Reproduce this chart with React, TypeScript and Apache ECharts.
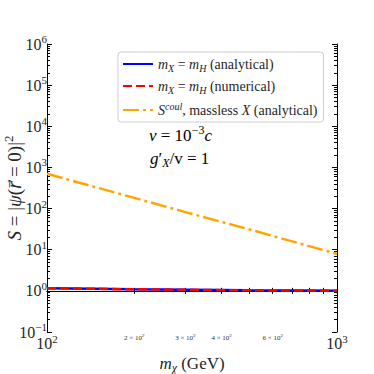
import React, { useEffect, useRef } from "react";
import * as echarts from "echarts";

// ---- data ----
const massGeV = [100, 200, 300, 500, 1000];
const sAnalytical = [1.16, 1.09, 1.06, 1.03, 1.01];
const sNumerical = [1.16, 1.09, 1.06, 1.03, 1.01];
const sCoulomb = [700, 182, 82, 31, 7.9];

const xMajorExp = [2, 3];
const xMinorValues = [200, 300, 400, 500, 600, 700, 800, 900];
const xMinorLabelValues = [200, 300, 400, 600];
const yMin = -1;
const yMax = 6;

const FONT = "'Liberation Serif', 'DejaVu Serif', serif";
const TXT = "#262626";

function mkRich(size: number): any {
  const small = Math.round(size * 0.68);
  const lh = Math.round(size * 1.3);
  return {
    n: { fontFamily: FONT, fontSize: size, color: TXT, lineHeight: lh },
    i: { fontFamily: FONT, fontSize: size, color: TXT, fontStyle: "italic", lineHeight: lh },
    rt: { fontFamily: "'DejaVu Sans', sans-serif", fontSize: size * 0.9, color: TXT, fontStyle: "italic", lineHeight: lh },
    sup: { fontFamily: FONT, fontSize: small, color: TXT, verticalAlign: "top", lineHeight: small },
    isup: { fontFamily: FONT, fontSize: small, color: TXT, fontStyle: "italic", verticalAlign: "top", lineHeight: small },
    sub: { fontFamily: FONT, fontSize: small, color: TXT, fontStyle: "italic", verticalAlign: "bottom", lineHeight: small },
  };
}
const richTick = mkRich(16);
const richLegend = mkRich(14);
const richName = mkRich(19);
const richXName = mkRich(17);
const richNote = mkRich(17);
const richMinor: any = {
  sn: { fontFamily: FONT, fontSize: 7, color: "#333", lineHeight: 9 },
  ssup: { fontFamily: FONT, fontSize: 5, color: "#333", verticalAlign: "top", lineHeight: 5 },
};

const lg = (v: number) => Math.log10(v);
const pairs = (ys: number[]) => massGeV.map((m, i) => [lg(m), lg(ys[i])]);

const yMinorValues: number[] = [];
for (let e = yMin; e < yMax; e++) for (let k = 2; k <= 9; k++) yMinorValues.push(e + lg(k));

const legendText: Record<string, string> = {
  analytical: "{i|m}{sub|X}{n| = }{i|m}{sub|H}{n| (analytical)}",
  numerical: "{i|m}{sub|X}{n| = }{i|m}{sub|H}{n| (numerical)}",
  coul: "{i|S}{isup|coul}{n|, massless }{i|X}{n| (analytical)}",
};

const axisLine = { show: true, lineStyle: { color: "#000", width: 1 } };

function majorX(position: "bottom" | "top", labels: boolean) {
  return {
    type: "value",
    position,
    min: xMajorExp[0],
    max: xMajorExp[1],
    interval: 1,
    axisLine,
    splitLine: { show: false },
    axisTick: { show: true, inside: true, length: 5, lineStyle: { color: "#000" } },
    axisLabel: labels
      ? {
          show: true,
          margin: 1,
          formatter: (v: number) => `{n|10}{sup|${Math.round(v)}}`,
          rich: richTick,
        }
      : { show: false },
    name: labels ? "{i|m}{sub|χ}{n| (GeV)}" : "",
    nameLocation: "middle",
    nameGap: 20,
    nameMoveOverlap: false,
    nameTextStyle: { rich: richXName },
  };
}
function minorX(position: "bottom" | "top", labels: boolean) {
  return {
    type: "value",
    position,
    min: xMajorExp[0],
    max: xMajorExp[1],
    axisLine: { show: false },
    splitLine: { show: false },
    axisTick: {
      show: true,
      inside: true,
      length: 3,
      customValues: xMinorValues.map(lg),
      lineStyle: { color: "#000" },
    },
    axisLabel: labels
      ? {
          show: true,
          margin: 1,
          customValues: xMinorLabelValues.map(lg),
          formatter: (v: number) => {
            const m = Math.round(Math.pow(10, v) / 100);
            return `{sn|${m} × 10}{ssup|2}`;
          },
          rich: richMinor,
        }
      : { show: false },
  };
}
function majorY(position: "left" | "right", labels: boolean) {
  return {
    type: "value",
    position,
    min: yMin,
    max: yMax,
    interval: 1,
    axisLine,
    splitLine: { show: false },
    axisTick: { show: true, inside: true, length: 5, lineStyle: { color: "#000" } },
    axisLabel: labels
      ? {
          show: true,
          margin: 0,
          formatter: (v: number) => `{n|10}{sup|${v < 0 ? "−" + Math.abs(Math.round(v)) : Math.round(v)}}`,
          rich: richTick,
        }
      : { show: false },
    name: labels ? "{i|S}{n| = |}{i|ψ}{n|(}{rt|r⃗}{n| = 0)|}{sup|2}" : "",
    nameLocation: "middle",
    nameGap: 20,
    nameMoveOverlap: false,
    nameRotate: 90,
    nameTextStyle: { rich: richName },
  };
}
function minorY(position: "left" | "right") {
  return {
    type: "value",
    position,
    min: yMin,
    max: yMax,
    axisLine: { show: false },
    splitLine: { show: false },
    axisTick: {
      show: true,
      inside: true,
      length: 3,
      customValues: yMinorValues,
      lineStyle: { color: "#000" },
    },
    axisLabel: { show: false },
  };
}

export default function App() {
  const ref = useRef<HTMLDivElement>(null);
  useEffect(() => {
    document.body.style.margin = "0";
    const chart = echarts.init(ref.current!, undefined, { renderer: "svg" });
    chart.setOption({
      animation: false,
      backgroundColor: "#fff",
      grid: { left: 47, top: 44, width: 290, height: 288, containLabel: false, outerBoundsMode: "none" },
      legend: {
        orient: "vertical",
        left: 118,
        top: 52,
        itemWidth: 30,
        itemHeight: 10,
        itemGap: 6,
        padding: [5, 6, 5, 4],
        backgroundColor: "rgba(255,255,255,0.85)",
        borderColor: "#cccccc",
        borderWidth: 1,
        borderRadius: 3,
        itemStyle: { opacity: 0 },
        data: ["analytical", "numerical", "coul"],
        formatter: (name: string) => legendText[name],
        textStyle: { rich: richLegend },
      },
      xAxis: [majorX("bottom", true), minorX("bottom", true), majorX("top", false), minorX("top", false)],
      yAxis: [majorY("left", true), minorY("left"), majorY("right", false), minorY("right")],
      graphic: [
        {
          type: "text",
          x: 149,
          y: 135,
          style: { text: "{i|v}{n| = 10}{sup|−3}{i|c}", rich: richNote, textAlign: "left", textVerticalAlign: "middle" },
        },
        {
          type: "text",
          x: 150,
          y: 158,
          style: { text: "{i|g}{n|′}{sub|X}{n|/v = 1}", rich: richNote, textAlign: "left", textVerticalAlign: "middle" },
        },
      ],
      series: [
        {
          name: "analytical",
          type: "line",
          data: pairs(sAnalytical),
          symbol: "none",
          lineStyle: { color: "#0000ff", width: 2.5 },
          itemStyle: { color: "#0000ff" },
        },
        {
          name: "numerical",
          type: "line",
          data: pairs(sNumerical),
          symbol: "none",
          lineStyle: { color: "#ff0000", width: 2.5, type: [9, 4] },
          itemStyle: { color: "#ff0000" },
        },
        {
          name: "coul",
          type: "line",
          data: pairs(sCoulomb),
          symbol: "none",
          lineStyle: { color: "#ffa500", width: 2.5, type: [16, 4, 3, 4] },
          itemStyle: { color: "#ffa500" },
        },
      ],
    });
    return () => chart.dispose();
  }, []);
  return <div ref={ref} style={{ width: 374, height: 374, position: "absolute", left: 0, top: 0 }} />;
}
